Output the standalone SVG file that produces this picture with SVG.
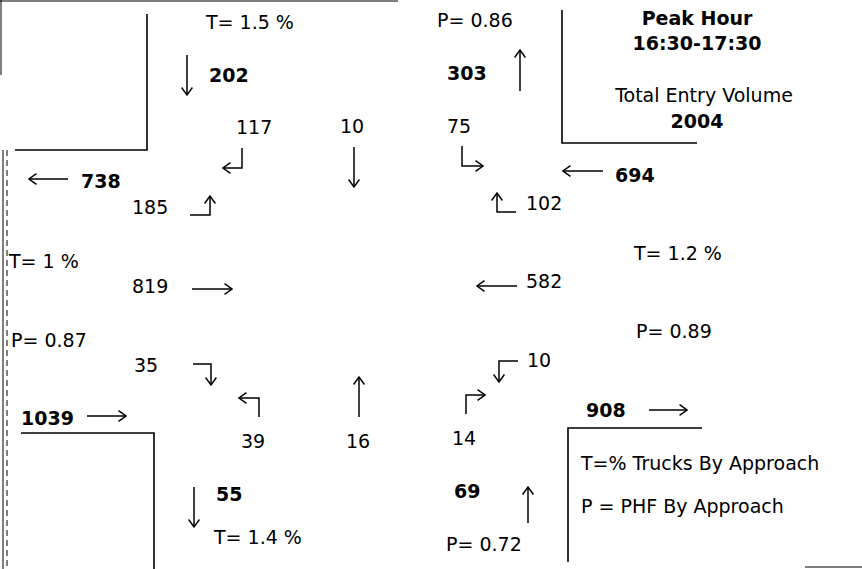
<svg xmlns="http://www.w3.org/2000/svg" width="862" height="569" viewBox="0 0 862 569">
<style>
text{font-family:"DejaVu Sans","Verdana",sans-serif;font-size:19px;fill:#000}
.b{font-weight:bold;font-size:19px}
.c{text-anchor:middle}
.ln{fill:none;stroke:#000;stroke-width:1.6}
.ar{fill:none;stroke:#000;stroke-width:1.5;marker-end:url(#ah)}
.fr{fill:none;stroke:#000;stroke-width:1}
</style>
<defs>
<marker id="ah" viewBox="0 0 10 14" refX="9.3" refY="7" markerWidth="9" markerHeight="13" markerUnits="userSpaceOnUse" orient="auto">
<path d="M1,1 L9.3,7 L1,13" fill="none" stroke="#000" stroke-width="1.6"/>
</marker>
</defs>
<rect width="862" height="569" fill="#fff"/>
<g id="frame">
<path class="fr" d="M0,1 L398,1" stroke="#999"/>
<path class="fr" d="M1,0 L1,75"/>
<path class="fr" d="M3,150 L3,569"/>
<path class="fr" d="M7,150 L7,569" stroke-dasharray="6,4" stroke-width="0.8"/>
<path class="fr" d="M805,567 L862,567" stroke="#888"/>
</g>
<g id="curbs">
<path class="ln" d="M147,14 L147,150 L15,150"/>
<path class="ln" d="M562,10 L562,143 L697,143"/>
<path class="ln" d="M21,433 L154,433 L154,569"/>
<path class="ln" d="M568,562 L568,428 L702,428"/>
</g>
<g id="connectors">
<path class="ar" d="M187,55 L187,95"/>
<path class="ar" d="M242,148 L242,168 L223,168"/>
<path class="ar" d="M68,179 L29,179"/>
<path class="ar" d="M520,91 L520,50"/>
<path class="ar" d="M354,147 L354,187"/>
<path class="ar" d="M462,146 L462,166 L483,166"/>
<path class="ar" d="M603,171 L563,171"/>
<path class="ar" d="M190,215 L210,215 L210,196"/>
<path class="ar" d="M516,212 L497,212 L497,193"/>
<path class="ar" d="M192,289 L232,289"/>
<path class="ar" d="M517,286 L477,286"/>
<path class="ar" d="M193,364 L211,364 L211,385"/>
<path class="ar" d="M518,361 L499,361 L499,382"/>
<path class="ar" d="M259,417 L259,398 L239,398"/>
<path class="ar" d="M359,417 L359,377"/>
<path class="ar" d="M466,414 L466,395 L485,395"/>
<path class="ar" d="M87,416 L126,416"/>
<path class="ar" d="M649,410 L687,410"/>
<path class="ar" d="M194,487 L194,527"/>
<path class="ar" d="M528,523 L528,487"/>
</g>
<g id="north-approach">
<text x="206" y="29">T= 1.5 %</text>
<text class="b" x="209" y="82">202</text>
<text x="236" y="134">117</text>
<text x="340" y="133">10</text>
<text x="447" y="133">75</text>
<text x="437" y="27">P= 0.86</text>
<text class="b" x="447" y="80">303</text>
</g>
<g id="info">
<text class="b c" x="697" y="25">Peak Hour</text>
<text class="b c" x="697" y="50">16:30-17:30</text>
<text class="c" x="704" y="102">Total Entry Volume</text>
<text class="b c" x="697" y="128">2004</text>
</g>
<g id="east-approach">
<text class="b" x="615" y="182">694</text>
<text x="526" y="210">102</text>
<text x="634" y="260">T= 1.2 %</text>
<text x="526" y="288">582</text>
<text x="636" y="338">P= 0.89</text>
<text x="527" y="367">10</text>
<text class="b" x="586" y="417">908</text>
</g>
<g id="west-approach">
<text class="b" x="81" y="188">738</text>
<text x="132" y="214">185</text>
<text x="9" y="268">T= 1 %</text>
<text x="132" y="293">819</text>
<text x="11" y="347">P= 0.87</text>
<text x="134" y="372">35</text>
<text class="b" x="21" y="425">1039</text>
</g>
<g id="south-approach">
<text x="241" y="448">39</text>
<text x="346" y="448">16</text>
<text x="452" y="445">14</text>
<text class="b" x="216" y="501">55</text>
<text x="214" y="544">T= 1.4 %</text>
<text class="b" x="454" y="498">69</text>
<text x="446" y="551">P= 0.72</text>
</g>
<g id="legend">
<text x="581" y="470">T=% Trucks By Approach</text>
<text x="581" y="513">P = PHF By Approach</text>
</g>
</svg>
